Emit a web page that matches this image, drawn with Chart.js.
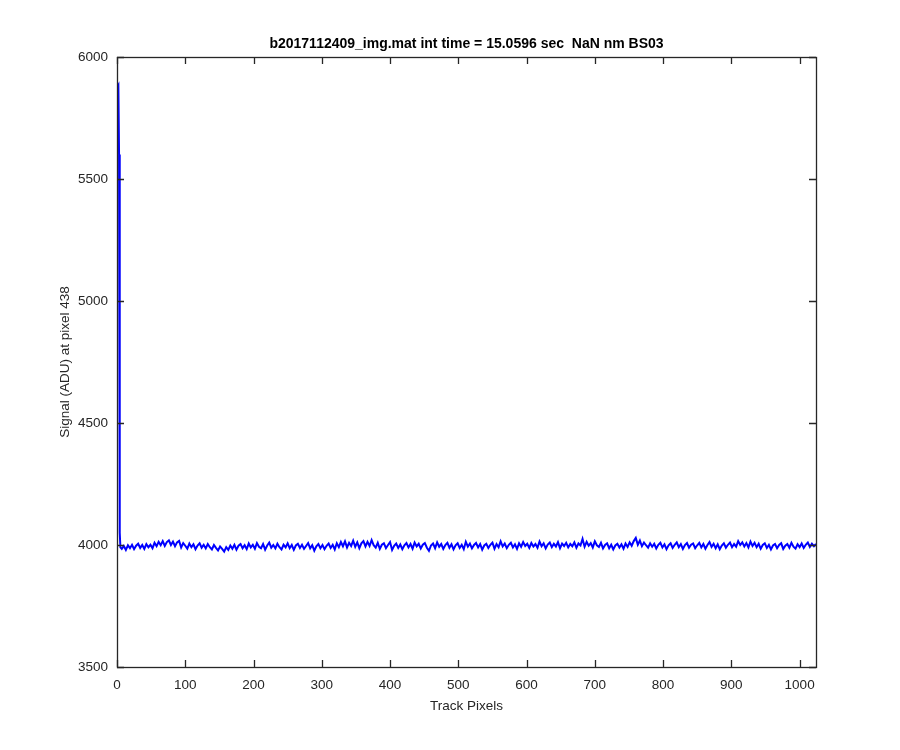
<!DOCTYPE html>
<html>
<head>
<meta charset="utf-8">
<script src="https://cdn.jsdelivr.net/npm/chart.js@4"></script>
<style>
  html, body { margin: 0; background: #fff; }
</style>
</head>
<body>
<canvas id="myChart" width="900" height="750"></canvas>
<script>
'use strict';

const titleText = 'b2017112409_img.mat int time = 15.0596 sec  NaN nm BS03';

const xTicks = [0, 100, 200, 300, 400, 500, 600, 700, 800, 900, 1000];
const yTicks = [3500, 4000, 4500, 5000, 5500, 6000];

// the start of the track, where the signal spikes
const spikePixels = [1, 2, 3, 4, 5];
const spikeSignal = [5880, 5885, 5600, 4050, 3990];

// rest of the track, read every 3rd pixel starting at pixel 7
const noisePixelStart = 7;
const noisePixelStep = 3;
const noiseSignal = [
  3984, 3996, 3980, 3999, 3987, 4001, 3983, 3997, 4005, 3988, 4000, 3984, 4004, 3991, 4001, 3987, 4009, 3995, 4013, 3999,
  4016, 3996, 4012, 4019, 4000, 4014, 3995, 4011, 4017, 3990, 4008, 3997, 3985, 4006, 3991, 4003, 3983, 3998, 4007, 3989,
  4001, 3986, 4004, 3991, 3982, 4000, 3988, 3978, 3994, 3984, 3973, 3991, 3980, 3998, 3985, 4001, 3981, 3997, 4004, 3987,
  3999, 3983, 4006, 3990, 4001, 3985, 4008, 3993, 3987, 4004, 3981, 3998, 4010, 3989, 4000, 3986, 4005, 3991, 3982, 4001,
  3990, 4007, 3987, 4000, 3980, 3998, 4005, 3988, 4001, 3984, 3996, 4008, 3986, 3999, 3977, 3995, 4004, 3987, 4000, 3983,
  3997, 4006, 3988, 4001, 3982, 4007, 3991, 4012, 3995, 4015, 3990, 4009, 3996, 4018, 3993, 4011, 3987, 4007, 4016, 3994,
  4013, 3996, 4020, 3999, 3989, 4009, 3984, 4001, 4007, 3987, 4000, 4012, 3980, 3997, 4006, 3988, 4002, 3983, 3999, 4008,
  3990, 4004, 3985, 4010, 3994, 4005, 3986, 4001, 4008, 3989, 3976, 3998, 4006, 3987, 4011, 3993, 4004, 3984, 4000, 4009,
  3989, 4003, 3982, 3999, 4007, 3988, 4001, 3983, 4013, 3993, 4006, 3986, 4000, 4008, 3990, 4004, 3981, 3998, 4005, 3988,
  4001, 4010, 3985, 4004, 3991, 4015, 3994, 4006, 3987, 4001, 4009, 3990, 4003, 3984, 4007, 3993, 4012, 3996, 4005, 3988,
  4008, 3994, 4004, 3989, 4014, 3995, 4007, 3986, 4002, 4010, 3991, 4005, 3994, 4012, 3987, 4006, 3996, 4009, 3990, 4004,
  3995, 4011, 3989, 4006, 3998, 4025, 3993, 4013, 3997, 4008, 3990, 4015, 3999, 3992, 4009, 3986, 4000, 4007, 3987, 4001,
  3982, 3998, 4005, 3990, 4003, 3985, 4006, 3992, 4011, 3997, 4016, 4029, 4001, 4018, 3995, 4010, 3999, 3989, 4007, 3993,
  4005, 3986, 4001, 4009, 3990, 4003, 3983, 3999, 4007, 3988, 4001, 4011, 3991, 4004, 3984, 4000, 4008, 3989, 4001, 4006,
  3987, 3999, 4009, 3990, 4004, 3985, 4000, 4012, 3992, 4005, 3987, 4003, 3983, 3998, 4007, 3989, 4001, 4010, 3991, 4004,
  3993, 4016, 4000, 4011, 3994, 4008, 3990, 4014, 3996, 4009, 3991, 4005, 3985, 4000, 4007, 3988, 4001, 3982, 3998, 4004,
  3987, 4000, 4007, 3984, 3997, 4004, 3989, 4009, 3993, 3985, 4003, 3991, 4006, 3988, 4001, 4010, 3992, 4005, 3995
];

const lastPixel = 1024;
const lastSignal = 4004;

const fontFamily = '"Liberation Sans", Arial, Helvetica, sans-serif';
const axisColor = '#262626';

const points = [];
for (let i = 0; i < spikePixels.length; i++) {
  points.push({ x: spikePixels[i], y: spikeSignal[i] });
}
for (let i = 0; i < noiseSignal.length; i++) {
  points.push({ x: noisePixelStart + i * noisePixelStep, y: noiseSignal[i] });
}
points.push({ x: lastPixel, y: lastSignal });

// matlab style box with the ticks pointing inwards
const matlabBox = {
  id: 'matlabBox',
  afterLayout(chart) {
    // center the title over the plot box, not the whole canvas
    const tb = chart.titleBlock;
    if (tb) {
      tb.left = chart.chartArea.left;
      tb.right = chart.chartArea.right;
      tb.width = tb.right - tb.left;
    }
  },
  afterDraw(chart) {
    const c = chart.ctx;
    const area = chart.chartArea;
    const xs = chart.scales.x;
    const ys = chart.scales.y;
    const len = 7;
    c.save();
    c.strokeStyle = axisColor;
    c.lineWidth = 1.3;
    c.beginPath();
    for (const v of xTicks) {
      const px = Math.round(xs.getPixelForValue(v)) + 0.5;
      c.moveTo(px, area.bottom);
      c.lineTo(px, area.bottom - len);
      c.moveTo(px, area.top);
      c.lineTo(px, area.top + len);
    }
    for (const v of yTicks) {
      const py = Math.round(ys.getPixelForValue(v)) + 0.5;
      c.moveTo(area.left, py);
      c.lineTo(area.left + len, py);
      c.moveTo(area.right, py);
      c.lineTo(area.right - len, py);
    }
    c.stroke();
    c.strokeRect(Math.round(area.left) + 0.5, Math.round(area.top) + 0.5,
      Math.round(area.right - area.left), Math.round(area.bottom - area.top));
    c.restore();
  }
};

const ctx = document.getElementById('myChart').getContext('2d');

new Chart(ctx, {
  type: 'line',
  data: {
    datasets: [{
      data: points,
      borderColor: '#0000ff',
      borderWidth: 2,
      pointRadius: 0,
      tension: 0,
      fill: false
    }]
  },
  options: {
    responsive: false,
    animation: false,
    devicePixelRatio: 1,
    layout: { padding: { left: 0, right: 84, top: 0, bottom: 0 } },
    plugins: {
      legend: { display: false },
      tooltip: { enabled: false },
      title: {
        display: true,
        text: titleText,
        color: '#000',
        font: { family: fontFamily, size: 14, weight: 'bold' },
        padding: { top: 35.6, bottom: 4.6 }
      }
    },
    scales: {
      x: {
        type: 'linear',
        min: 0,
        max: 1024,
        afterBuildTicks: s => { s.ticks = xTicks.map(v => ({ value: v })); },
        afterFit: s => { s.height = 83; },
        grid: { display: false, drawTicks: false },
        border: { display: false },
        ticks: {
          color: axisColor,
          font: { family: fontFamily, size: 13.5 },
          padding: 10,
          maxRotation: 0,
          callback: v => String(v)
        },
        title: {
          display: true,
          text: 'Track Pixels',
          color: axisColor,
          font: { family: fontFamily, size: 13.5 },
          padding: { top: 36, bottom: 36 }
        }
      },
      y: {
        type: 'linear',
        min: 3500,
        max: 6000,
        afterBuildTicks: s => { s.ticks = yTicks.map(v => ({ value: v })); },
        afterFit: s => { s.width = 117; },
        grid: { display: false, drawTicks: false },
        border: { display: false },
        ticks: {
          color: axisColor,
          font: { family: fontFamily, size: 13.5 },
          padding: 9,
          callback: v => String(v)
        },
        title: {
          display: true,
          text: 'Signal (ADU) at pixel 438',
          color: axisColor,
          font: { family: fontFamily, size: 13.5 },
          padding: { top: 57, bottom: 57 }
        }
      }
    }
  },
  plugins: [matlabBox]
});
</script>
</body>
</html>
